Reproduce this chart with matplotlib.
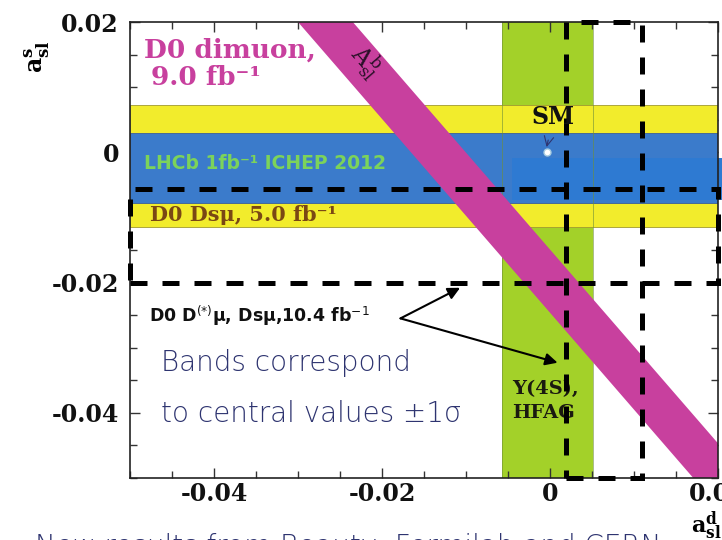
import matplotlib.pyplot as plt
import numpy as np
from matplotlib.patches import Rectangle
from matplotlib.ticker import MultipleLocator

# axis ranges and ticks
asl_d_range = [-0.05, 0.02]
asl_s_range = [-0.05, 0.02]
major_ticks = [-0.04, -0.02, 0.0, 0.02]
major_labels = ["-0.04", "-0.02", "0", "0.02"]

# measurements: (central value, 1 sigma)
lhcb_as = (-0.0024, 0.0054)
d0_dsmu_as = (-0.0021, 0.0093)
hfag_ad = (-0.0003, 0.0054)
dimuon_Ab = (-0.00795, 0.00195)
dimuon_coef = (0.598, 0.402)  # A_sl^b = c_d * a_sl^d + c_s * a_sl^s
d0_comb_ad = (0.00645, 0.00455)
d0_comb_as = (-0.01285, 0.00715)
lhcb_patch_ad = [-0.0045, 0.0205]
lhcb_patch_as = [-0.0074, -0.0009]
sm_point = (-0.0004, 0.0)

yellow = "#F2EC2C"
blue = "#3B7BCB"
blue2 = "#2E7AD2"
green = "#A3D129"
magenta = "#C8409E"
navy = "#2E3470"

plt.rcParams["font.family"] = "DejaVu Serif"
plt.rcParams["mathtext.fontset"] = "dejavuserif"

fig = plt.figure(figsize=(7.22, 5.4), dpi=100)
ax = fig.add_axes([130 / 722, 1 - 478 / 540, 588 / 722, 456 / 540])
ax.set_xlim(asl_d_range)
ax.set_ylim(asl_s_range)

# bands
c, e = hfag_ad
ax.axvspan(c - e, c + e, facecolor=green, edgecolor="none", zorder=1)
c, e = d0_dsmu_as
ax.axhspan(c - e, c + e, facecolor=yellow, edgecolor="#A09A30", lw=0.6, zorder=2)
c, e = lhcb_as
ax.axhspan(c - e, c + e, facecolor=blue, edgecolor="#3A5E9A", lw=0.6, zorder=3)
ax.add_patch(Rectangle((lhcb_patch_ad[0], lhcb_patch_as[0]),
                       lhcb_patch_ad[1] - lhcb_patch_ad[0],
                       lhcb_patch_as[1] - lhcb_patch_as[0],
                       facecolor=blue2, edgecolor="none", zorder=3.2, clip_on=False))
c, e = hfag_ad
for xv in (c - e, c + e):
    ax.axvline(xv, color="#6F8F3A", lw=0.6, alpha=0.7, zorder=3.5)

# D0 dimuon band (diagonal)
xs = np.linspace(asl_d_range[0], asl_d_range[1], 100)
cd, cs = dimuon_coef
c, e = dimuon_Ab
ax.fill_between(xs, (c - e - cd * xs) / cs, (c + e - cd * xs) / cs,
                color=magenta, lw=0, zorder=4)

# D0 combined measurement, dashed 1 sigma bands
dash = dict(fill=False, edgecolor="black", lw=3.6, linestyle=(0, (3.4, 3.0)),
            capstyle="butt", zorder=6, clip_on=False)
c, e = d0_comb_as
ax.axhspan(c - e, c + e, **dash)
c, e = d0_comb_ad
ax.axvspan(c - e, c + e, **dash)

# SM point
ax.plot(*sm_point, "o", mfc="white", mec="#A8CCE0", ms=5, zorder=7)
ax.annotate("SM", xy=(sm_point[0], sm_point[1] + 0.0008), xytext=(0.0004, 0.0054),
            ha="center", va="center", fontsize=17, fontweight="bold", color="#111111",
            arrowprops=dict(arrowstyle="->", color=navy, lw=0.8, shrinkA=6, shrinkB=0),
            zorder=7)

# labels
ax.text(-0.0483, 0.0157, "D0 dimuon,", color=magenta, fontsize=19,
        fontweight="bold", va="center", ha="left", zorder=7)
ax.text(-0.0475, 0.0115, "9.0 fb\u207b\u00b9", color=magenta, fontsize=19,
        fontweight="bold", va="center", ha="left", zorder=7)
ax.text(-0.0219, 0.0139, r"$\mathrm{A}_{\mathrm{sl}}^{\mathrm{b}}$", color="#2A1028",
        fontsize=17, rotation=-49, ha="center", va="center", zorder=7)
ax.text(-0.0483, -0.0017, "LHCb 1fb\u207b\u00b9 ICHEP 2012", color="#7CD35A",
        fontsize=13.5, fontweight="bold", family="DejaVu Sans",
        va="center", ha="left", zorder=7)
ax.text(-0.0476, -0.0097, "D0 Ds\u03bc, 5.0 fb\u207b\u00b9", color="#7A4814",
        fontsize=15, fontweight="bold", va="center", ha="left", zorder=7)
ax.text(-0.0477, -0.0251, "D0 D$^{\\mathsf{(*)}}$\u03bc, Ds\u03bc,10.4 fb$^{\\mathsf{-1}}$",
        color="#111111", fontsize=12.5, fontweight="bold", family="DejaVu Sans",
        va="center", ha="left", zorder=7)
ax.text(-0.0045, -0.0363, "Y(4S),", color="#1A1A10", fontsize=14,
        fontweight="bold", va="center", ha="left", zorder=5)
ax.text(-0.0045, -0.0400, "HFAG", color="#1A1A10", fontsize=14,
        fontweight="bold", va="center", ha="left", zorder=5)

for tip in [(-0.0107, -0.0208), (0.0009, -0.0323)]:
    ax.annotate("", xy=tip, xytext=(-0.0178, -0.0255),
                arrowprops=dict(arrowstyle="-|>", color="black", lw=1.5,
                                mutation_scale=18, shrinkA=0, shrinkB=0),
                zorder=7)

ax.text(-0.0463, -0.0323, "Bands correspond", color=navy, fontsize=20,
        fontweight=200, family="DejaVu Sans", va="center", ha="left", zorder=7)
ax.text(-0.0463, -0.0402, "to central values \u00b11\u03c3", color=navy, fontsize=20,
        fontweight=200, family="DejaVu Sans", va="center", ha="left", zorder=7)

# ticks and frame
ax.set_xticks(major_ticks, major_labels, fontsize=17, fontweight="bold")
ax.set_yticks(major_ticks, major_labels, fontsize=17, fontweight="bold")
ax.xaxis.set_minor_locator(MultipleLocator(0.005))
ax.yaxis.set_minor_locator(MultipleLocator(0.005))
ax.tick_params(which="both", direction="in", top=True, right=True,
               color="#333333", width=1.0)
ax.tick_params(which="major", length=7)
ax.tick_params(which="minor", length=5)
ax.tick_params(axis="x", pad=3, labelcolor="#111111")
ax.tick_params(axis="y", pad=8, labelcolor="#111111")
for sp in ax.spines.values():
    sp.set_linewidth(1.2)
    sp.set_color("#222222")
    sp.set_zorder(5)

fig.text(37 / 722, 1 - 57 / 540, r"$\mathbf{a}_{\mathbf{sl}}^{\mathbf{s}}$",
         rotation=90, fontsize=17, ha="center", va="center")
fig.text(706 / 722, 1 - 526 / 540, r"$\mathbf{a}_{\mathbf{sl}}^{\mathbf{d}}$",
         fontsize=16, ha="center", va="center")
fig.text(35 / 722, -0.028, "New results from Beauty, Fermilab and CERN",
         color=navy, fontsize=20, fontweight=200, family="DejaVu Sans",
         ha="left", va="baseline")

fig.savefig("out.png", dpi=100)
